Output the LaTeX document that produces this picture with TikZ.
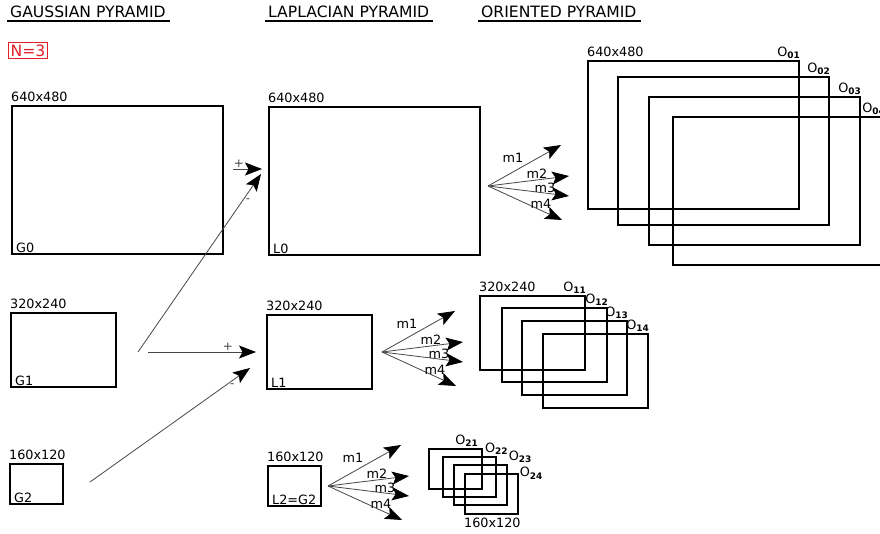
\documentclass[tikz,border=0pt]{standalone}
\usepackage{fontspec}
\setmainfont{DejaVu Sans}
\usetikzlibrary{arrows.meta, positioning}
\definecolor{nred}{RGB}{225, 30, 40}
\definecolor{linegray}{RGB}{70, 70, 70}
\newcommand{\osub}[1]{O\textsubscript{\bfseries #1}}
\tikzset{
  imgbox/.style={draw, line width=1.6pt, inner sep=0pt, anchor=north west},
  bigbox/.style={imgbox, minimum width=211, minimum height=148},
  midbox/.style={imgbox, minimum width=105, minimum height=74},
  smallbox/.style={imgbox, minimum width=53, minimum height=40},
  sizelabel/.style={font=\fontsize{12.8}{14}\selectfont, inner sep=0pt, anchor=south west, yshift=3pt},
  namelabel/.style={font=\fontsize{12.8}{14}\selectfont, inner sep=0pt, anchor=south west, shift={(5pt,2pt)}},
  olabel/.style={font=\fontsize{12.8}{14}\selectfont, inner sep=1pt, anchor=south east},
  headlabel/.style={font=\fontsize{15.6}{17}\selectfont, inner sep=0pt, anchor=base west},
  mlabel/.style={font=\fontsize{12.8}{14}\selectfont, inner sep=0pt},
  pmlabel/.style={font=\fontsize{12}{13}\selectfont, inner sep=1pt},
  filtarrow/.style={-{Stealth[length=17pt, width=13pt, inset=3.5pt, color=black]}, linegray, line width=0.8pt}
}
\begin{document}
\begin{tikzpicture}[x=1pt, y=-1pt]
    \useasboundingbox (0, 0) rectangle (880, 534);
    \clip (0, 0) rectangle (880, 534);

    % headers
    \node[headlabel] (hgauss) at (10, 18) {GAUSSIAN PYRAMID};
    \node[headlabel] (hlap) at (268, 18) {LAPLACIAN PYRAMID};
    \node[headlabel] (hori) at (481, 18) {ORIENTED PYRAMID};
    \foreach \h in {hgauss, hlap, hori}
        \draw[line width=1.1pt] ([shift={(-3, 3)}]\h.base west) -- ([shift={(4, 3)}]\h.base east);

    \node[draw=nred, text=nred, line width=1.2pt, inner sep=2pt, anchor=north west,
          font=\fontsize{15.6}{17}\selectfont] (nlev) at (8, 42) {N=3};

    % Gaussian pyramid
    \node[bigbox] (g0) at (11, 105) {};
    \node[midbox] (g1) at (10, 312) {};
    \node[smallbox] (g2) at (9, 463) {};
    \node[sizelabel] at (g0.north west) {640x480};
    \node[sizelabel] at (g1.north west) {320x240};
    \node[sizelabel] at (g2.north west) {160x120};
    \node[namelabel] at (g0.south west) {G0};
    \node[namelabel] at (g1.south west) {G1};
    \node[namelabel] at (g2.south west) {G2};

    % Laplacian pyramid
    \node[bigbox] (l0) at (268, 106) {};
    \node[midbox] (l1) at (266, 314) {};
    \node[smallbox] (l2) at (267, 465) {};
    \node[sizelabel] at (l0.north west) {640x480};
    \node[sizelabel] at (l1.north west) {320x240};
    \node[sizelabel] at (l2.north west) {160x120};
    \node[namelabel] at (l0.south west) {L0};
    \node[namelabel] at (l1.south west) {L1};
    \node[namelabel] at (l2.south west) {L2=G2};

    % differences G(k) - expand(G(k+1))
    \coordinate (p0) at (233, 169); \coordinate (t0) at (262, 169);
    \coordinate (p1) at (138, 352); \coordinate (t1) at (261, 174);
    \coordinate (p2) at (148, 352); \coordinate (t2) at (256, 352);
    \coordinate (p3) at (90, 482);  \coordinate (t3) at (250, 368);
    \draw[filtarrow] (p0) -- node[pmlabel, pos=0.2, above] {+} (t0);
    \draw[filtarrow] (p1) -- node[pmlabel, pos=0.85, right=2pt] {-} (t1);
    \draw[filtarrow] (p2) -- node[pmlabel, pos=0.74, above] {+} (t2);
    \draw[filtarrow] (p3) -- node[pmlabel, pos=0.89, below=2pt] {-} (t3);

    % oriented filters m1..m4
    \foreach \f/\x/\y in {0/488/186, 1/382/352, 2/328/486} {
        \coordinate (fan\f) at (\x, \y);
        \foreach \m/\dx/\dy/\lx/\ly in {1/73/-41/25/-28, 2/81/-10/49/-12, 3/81/10/57/2, 4/74/34/53/18} {
            \coordinate (fan\f m\m) at ([shift={(\dx, \dy)}]fan\f);
            \draw[filtarrow] (fan\f) -- (fan\f m\m);
            \node[mlabel] (lab\f m\m) at ([shift={(\lx, \ly)}]fan\f) {m\m};
        }
    }

    % oriented pyramid
    \foreach \k/\x/\y in {1/587/60, 2/617/76, 3/648/96, 4/672/116} {
        \node[bigbox] (o0\k) at (\x, \y) {};
        \node[olabel, xshift=2pt] at (o0\k.north east) {\osub{0\k}};
    }
    \node[sizelabel] at (o01.north west) {640x480};

    \foreach \k/\x/\y in {1/479/295, 2/501/307, 3/521/320, 4/542/333} {
        \node[midbox] (o1\k) at (\x, \y) {};
        \node[olabel, xshift=2pt] at (o1\k.north east) {\osub{1\k}};
    }
    \node[sizelabel] at (o11.north west) {320x240};

    \foreach \k/\x/\y in {1/428/448, 2/442/456, 3/453/464, 4/464/473}
        \node[smallbox] (o2\k) at (\x, \y) {};
    \node[olabel, xshift=-3pt] at (o21.north east) {\osub{21}};
    \node[olabel, anchor=south] at (o22.north east) {\osub{22}};
    \node[olabel, anchor=south west] at (o23.north east) {\osub{23}};
    \node[olabel, anchor=west] at (o24.north east) {\osub{24}};
    \node[sizelabel, anchor=north west, yshift=-6pt] at (o24.south west) {160x120};
\end{tikzpicture}
\end{document}
